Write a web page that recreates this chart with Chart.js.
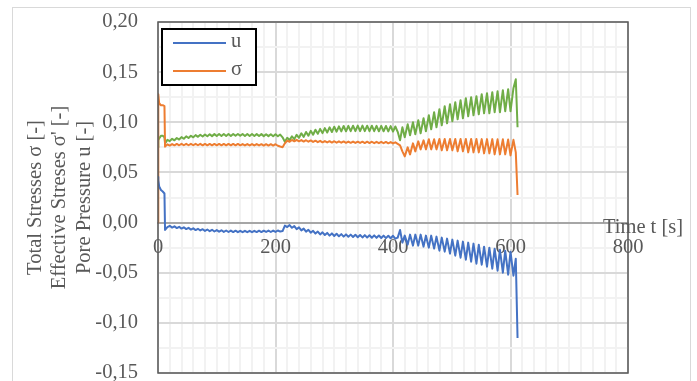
<!DOCTYPE html>
<html>
<head>
<meta charset="utf-8">
<title>Stresses and pore pressure</title>
<script src="https://cdn.jsdelivr.net/npm/chart.js@4"></script>
<style>
  html, body { margin: 0; padding: 0; background: #fff; }
  canvas { display: block; }
</style>
</head>
<body>
<canvas id="stressChart" width="697" height="381"></canvas>
<script>
// time [s]: start-up, then roughly half-cycle samples of the loading
const timeS = [
  0, 0.5, 2, 5, 8, 11, 12,
  16, 20, 24, 28, 32, 36, 40, 44, 48, 52, 56, 60, 64, 68, 72, 76, 80, 84, 88, 92, 96, 100, 104, 108,
  112, 116, 120, 124, 128, 132, 136, 140, 144, 148, 152, 156, 160, 164, 168, 172, 176, 180, 184, 188,
  192, 196, 200, 204, 208,
  212, 216, 220, 224, 228, 232, 236, 240, 244, 248, 252, 256, 260, 264, 268, 272, 276, 280, 284, 288,
  292, 296, 300, 304, 308, 312, 316, 320, 324, 328, 332, 336, 340, 344, 348, 352, 356, 360, 364, 368,
  372, 376, 380, 384, 388, 392, 396, 400, 404,
  408, 412,
  416, 420, 425, 429, 434, 438, 443, 447, 452, 456, 461, 465, 470, 474, 479, 483, 488, 492, 497, 501,
  506, 510, 515, 519, 524, 528, 533, 537, 542, 546, 551, 555, 560, 564, 569, 573, 578, 582, 587, 591,
  596, 600, 605,
  609, 612
];

// pore pressure u [-]
const poreU = [
  0.0455, 0.042, 0.036, 0.0325, 0.031, 0.029, -0.0074,
  -0.0045, -0.0032, -0.0050, -0.0037, -0.0055, -0.0042, -0.0060, -0.0047, -0.0065, -0.0052,
  -0.0070, -0.0057, -0.0075, -0.0062, -0.0079, -0.0066, -0.0083, -0.0069, -0.0086, -0.0072,
  -0.0089, -0.0075, -0.0091, -0.0077, -0.0093, -0.0079, -0.0094, -0.0080, -0.0095, -0.0081,
  -0.0096, -0.0082, -0.0096, -0.0082, -0.0096, -0.0082, -0.0096, -0.0082, -0.0095, -0.0081,
  -0.0095, -0.0081, -0.0094, -0.0080, -0.0094, -0.0080, -0.0093, -0.0079, -0.0090,
  -0.0085, -0.0030, -0.0045, -0.0025, -0.0052, -0.0035, -0.0065, -0.0048, -0.0078, -0.0060,
  -0.0090, -0.0072, -0.0101, -0.0082, -0.0110, -0.0090, -0.0118, -0.0097, -0.0124, -0.0103,
  -0.0130, -0.0108, -0.0134, -0.0112, -0.0137, -0.0115, -0.0140, -0.0118, -0.0142, -0.0120,
  -0.0144, -0.0122, -0.0146, -0.0124, -0.0148, -0.0125, -0.0149, -0.0127, -0.0151, -0.0128,
  -0.0152, -0.0129, -0.0154, -0.0130, -0.0155, -0.0131, -0.0156, -0.0132, -0.0160,
  -0.0150, -0.0074,
  -0.020, -0.013, -0.022, -0.012, -0.023, -0.012, -0.023, -0.012, -0.024, -0.013,
  -0.025, -0.013, -0.026, -0.014, -0.028, -0.015, -0.029, -0.016, -0.031, -0.017,
  -0.033, -0.018, -0.035, -0.019, -0.037, -0.020, -0.039, -0.021, -0.041, -0.022,
  -0.042, -0.024, -0.044, -0.025, -0.046, -0.026, -0.048, -0.027, -0.050, -0.028,
  -0.052, -0.029, -0.053,
  -0.036, -0.115
];

// total stress sigma [-]
const totalSigma = [
  0, 0.128, 0.119, 0.117, 0.117, 0.116, 0.0757,
  0.0780, 0.0768, 0.0783, 0.0770, 0.0784, 0.0771, 0.0785, 0.0771, 0.0785, 0.0771,
  0.0785, 0.0771, 0.0785, 0.0771, 0.0785, 0.0770, 0.0784, 0.0770, 0.0784, 0.0770,
  0.0784, 0.0770, 0.0784, 0.0770, 0.0784, 0.0770, 0.0784, 0.0770, 0.0784, 0.0770,
  0.0784, 0.0770, 0.0783, 0.0769, 0.0783, 0.0769, 0.0783, 0.0769, 0.0783, 0.0769,
  0.0782, 0.0768, 0.0782, 0.0768, 0.0782, 0.0768, 0.0781, 0.0766, 0.0758,
  0.0752, 0.0790, 0.0818, 0.0806, 0.0824, 0.0810, 0.0825, 0.0810, 0.0823, 0.0808,
  0.0821, 0.0806, 0.0819, 0.0804, 0.0817, 0.0802, 0.0815, 0.0800, 0.0813, 0.0799,
  0.0812, 0.0798, 0.0811, 0.0797, 0.0810, 0.0796, 0.0809, 0.0795, 0.0808, 0.0795,
  0.0808, 0.0794, 0.0807, 0.0794, 0.0807, 0.0793, 0.0806, 0.0793, 0.0806, 0.0792,
  0.0805, 0.0792, 0.0805, 0.0791, 0.0804, 0.0790, 0.0803, 0.0789, 0.0800,
  0.0785, 0.0770,
  0.071, 0.066, 0.075, 0.068, 0.079, 0.071, 0.081, 0.073, 0.082, 0.073,
  0.083, 0.073, 0.083, 0.073, 0.0834, 0.072, 0.0834, 0.072, 0.0834, 0.072,
  0.0834, 0.071, 0.0834, 0.071, 0.0834, 0.070, 0.0834, 0.070, 0.0834, 0.070,
  0.0832, 0.069, 0.0832, 0.069, 0.0832, 0.068, 0.0830, 0.068, 0.0830, 0.068,
  0.0828, 0.067, 0.0825,
  0.070, 0.0275
];

// effective stress sigma' [-]
const effSigma = [
  0.075, 0.082, 0.084, 0.0865, 0.0865, 0.085, 0.079,
  0.0825, 0.0812, 0.0835, 0.0820, 0.0843, 0.0828, 0.0852, 0.0836, 0.0860, 0.0843,
  0.0866, 0.0850, 0.0872, 0.0855, 0.0876, 0.0858, 0.0879, 0.0860, 0.0881, 0.0862,
  0.0882, 0.0863, 0.0883, 0.0864, 0.0883, 0.0864, 0.0884, 0.0864, 0.0884, 0.0865,
  0.0884, 0.0865, 0.0884, 0.0864, 0.0883, 0.0864, 0.0883, 0.0863, 0.0882, 0.0863,
  0.0882, 0.0862, 0.0881, 0.0862, 0.0881, 0.0861, 0.0880, 0.0860, 0.0878,
  0.0850, 0.0805, 0.0845, 0.0822, 0.0860, 0.0832, 0.0875, 0.0845, 0.0890, 0.0855,
  0.0903, 0.0866, 0.0915, 0.0876, 0.0926, 0.0885, 0.0934, 0.0892, 0.0942, 0.0898,
  0.0950, 0.0903, 0.0956, 0.0906, 0.0960, 0.0909, 0.0963, 0.0910, 0.0965, 0.0911,
  0.0966, 0.0912, 0.0967, 0.0912, 0.0967, 0.0912, 0.0966, 0.0911, 0.0966, 0.0911,
  0.0965, 0.0910, 0.0964, 0.0910, 0.0963, 0.0909, 0.0962, 0.0908, 0.0958,
  0.0905, 0.0820,
  0.095, 0.085, 0.098, 0.087, 0.100, 0.088, 0.102, 0.089, 0.104, 0.091,
  0.107, 0.093, 0.110, 0.095, 0.113, 0.097, 0.116, 0.099, 0.118, 0.101,
  0.120, 0.103, 0.122, 0.104, 0.124, 0.106, 0.125, 0.107, 0.126, 0.108,
  0.128, 0.109, 0.129, 0.109, 0.130, 0.110, 0.131, 0.110, 0.132, 0.111,
  0.133, 0.111, 0.134,
  0.143, 0.095
];

const yTitle = ['Total Stresses σ [-]', "Effective Streses σ' [-]", 'Pore Pressure u [-]'];
const xTitle = 'Time t [s]';

const serif = "'Liberation Serif', 'Times New Roman', serif";
const textGray = '#595959';
const axisFont = { family: serif, size: 20.5, lineHeight: 1.2 };

const toPoints = ys => timeS.map((t, i) => ({ x: t, y: ys[i] }));
const isMajorY = v => Math.round(v * 40) % 2 === 0;

// frame, plot box, inner legend and the time label next to the zero line
const decorations = {
  id: 'decorations',
  beforeDraw(chart) {
    const c = chart.ctx;
    c.save();
    c.fillStyle = '#fff';
    c.fillRect(0, 0, chart.width, chart.height);
    c.strokeStyle = '#d9d9d9';
    c.lineWidth = 1;
    c.strokeRect(12.5, 7.5, 678, 380);
    c.restore();
  },
  afterDatasetsDraw(chart) {
    const c = chart.ctx;
    const a = chart.chartArea;
    c.save();
    c.strokeStyle = '#595959';
    c.lineWidth = 1.5;
    c.strokeRect(a.left, a.top, a.right - a.left, a.bottom - a.top);

    // legend box
    const lx = a.left + 4, ly = a.top + 7;
    c.fillStyle = '#fff';
    c.fillRect(lx, ly, 94, 56);
    c.strokeStyle = '#000';
    c.lineWidth = 2;
    c.strokeRect(lx, ly, 94, 56);
    c.font = `20.5px ${serif}`;
    c.textBaseline = 'middle';
    c.textAlign = 'left';
    chart.data.datasets.slice(0, 2).forEach((ds, i) => {
      const y = ly + 14 + i * 28;
      c.strokeStyle = ds.borderColor;
      c.lineWidth = 2;
      c.beginPath();
      c.moveTo(lx + 11, y);
      c.lineTo(lx + 64, y);
      c.stroke();
      c.fillStyle = textGray;
      c.fillText(ds.label, lx + 69, y - 1);
    });

    // x axis title
    const y0 = chart.scales.y.getPixelForValue(0);
    c.textAlign = 'center';
    c.fillStyle = textGray;
    c.fillText(xTitle, 643, y0 + 5);
    c.restore();
  }
};

new Chart(document.getElementById('stressChart'), {
  type: 'line',
  data: {
    datasets: [
      { label: 'u', data: toPoints(poreU), borderColor: '#4472C4' },
      { label: 'σ', data: toPoints(totalSigma), borderColor: '#ED7D31' },
      { label: "σ'", data: toPoints(effSigma), borderColor: '#70AD47' }
    ]
  },
  options: {
    responsive: false,
    animation: false,
    devicePixelRatio: 1,
    layout: { padding: { left: 0, top: 22, right: 69, bottom: 8 } },
    elements: {
      line: { borderWidth: 2, tension: 0, fill: false, borderJoinStyle: 'round' },
      point: { radius: 0 }
    },
    plugins: {
      legend: { display: false },
      tooltip: { enabled: false }
    },
    scales: {
      x: {
        type: 'linear',
        position: { y: 0 },
        min: 0,
        max: 800,
        ticks: {
          stepSize: 20,
          autoSkip: false,
          maxRotation: 0,
          minRotation: 0,
          padding: 13,
          color: textGray,
          font: axisFont,
          callback: v => (v % 200 === 0 ? String(v) : '')
        },
        grid: {
          drawTicks: false,
          lineWidth: 2,
          color: ctx => (ctx.tick && ctx.tick.value % 200 === 0 ? '#d9d9d9' : '#f2f2f2')
        },
        border: { color: '#a6a6a6', width: 2 }
      },
      y: {
        min: -0.15,
        max: 0.2,
        afterFit: scale => {
          scale.width = 158;
          // labels may overhang the plot box; keep the layout padding as given
          scale.paddingTop = 0;
          scale.paddingBottom = 0;
        },
        ticks: {
          stepSize: 0.025,
          autoSkip: false,
          padding: 20,
          color: textGray,
          font: axisFont,
          callback: v => (isMajorY(v) ? v.toFixed(2).replace('.', ',') : '')
        },
        grid: {
          drawTicks: false,
          lineWidth: 2,
          color: ctx => (ctx.tick && isMajorY(ctx.tick.value) ? '#d9d9d9' : '#f2f2f2')
        },
        border: { display: false },
        title: {
          display: true,
          text: yTitle,
          color: textGray,
          font: axisFont,
          padding: { top: 23, bottom: 0 }
        }
      }
    }
  },
  plugins: [decorations]
});
</script>
</body>
</html>
